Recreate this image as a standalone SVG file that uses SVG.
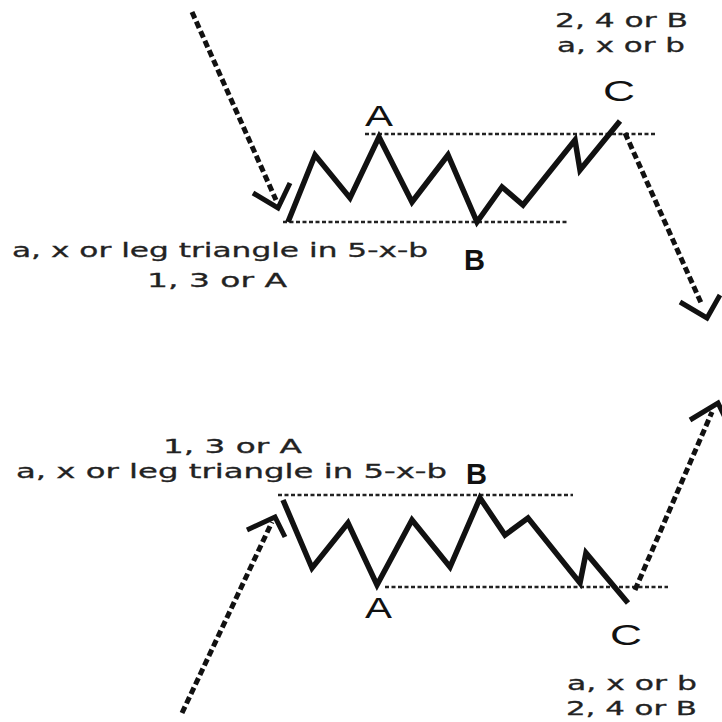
<svg xmlns="http://www.w3.org/2000/svg" width="722" height="722" viewBox="0 0 722 722">
<style>
.wave{fill:none;stroke:#111;stroke-width:5.5;stroke-linejoin:miter;stroke-linecap:butt}
.dot{fill:none;stroke:#222;stroke-width:2.5;stroke-dasharray:4 2.5}
.dash{fill:none;stroke:#111;stroke-width:5;stroke-dasharray:7 3.5}
.head{fill:none;stroke:#111;stroke-width:5;stroke-linejoin:miter}
.lbl{font-family:"DejaVu Sans",Verdana,sans-serif;font-size:19px;fill:#222;stroke:#222;stroke-width:0.3}
.big{font-family:"Liberation Sans",Arial,sans-serif;font-size:30px;fill:#111}
</style>
<rect width="722" height="722" fill="#fff"/>
<g id="top-pattern">
<line class="dot" x1="365" y1="134" x2="657" y2="134"/>
<line class="dot" x1="283" y1="222" x2="568" y2="222"/>
<polyline class="wave" points="288,222 315,155 350,198 379,137 412,202 448,155 477,222 502,187 523,205 575,140 580,170 620,121"/>
</g>
<g id="top-labels">
<text class="big" x="365" y="126" textLength="28" lengthAdjust="spacingAndGlyphs">A</text>
<text class="big" x="464" y="270" textLength="21" lengthAdjust="spacingAndGlyphs" font-weight="bold">B</text>
<text class="big" x="603" y="101" textLength="32" lengthAdjust="spacingAndGlyphs">C</text>
<text class="lbl" x="555" y="27" textLength="133" lengthAdjust="spacingAndGlyphs">2, 4 or B</text>
<text class="lbl" x="557" y="52" textLength="128" lengthAdjust="spacingAndGlyphs">a, x or b</text>
<text class="lbl" x="12" y="257" textLength="416" lengthAdjust="spacingAndGlyphs">a, x or leg triangle in 5-x-b</text>
<text class="lbl" x="147" y="287" textLength="140" lengthAdjust="spacingAndGlyphs">1, 3 or A</text>
</g>
<g id="bottom-pattern">
<line class="dot" x1="278" y1="495" x2="573" y2="495"/>
<line class="dot" x1="385" y1="587" x2="668" y2="587"/>
<polyline class="wave" points="283,500 312,568 348,523 377,585 412,520 450,567 480,498 505,535 528,518 580,583 586,553 628,603"/>
</g>
<g id="bottom-labels">
<text class="big" x="466" y="484" textLength="21" lengthAdjust="spacingAndGlyphs" font-weight="bold">B</text>
<text class="big" x="365" y="618" textLength="27" lengthAdjust="spacingAndGlyphs">A</text>
<text class="big" x="610" y="645" textLength="32" lengthAdjust="spacingAndGlyphs">C</text>
<text class="lbl" x="163" y="453" textLength="139" lengthAdjust="spacingAndGlyphs">1, 3 or A</text>
<text class="lbl" x="16" y="478" textLength="431" lengthAdjust="spacingAndGlyphs">a, x or leg triangle in 5-x-b</text>
<text class="lbl" x="567" y="690" textLength="130" lengthAdjust="spacingAndGlyphs">a, x or b</text>
<text class="lbl" x="566" y="715" textLength="131" lengthAdjust="spacingAndGlyphs">2, 4 or B</text>
</g>
<g id="connectors">
<line class="dash" x1="192" y1="12" x2="276" y2="200"/>
<polyline class="head" points="253,193 278,208 290,183"/>
<line class="dash" x1="625" y1="133" x2="702" y2="305"/>
<polyline class="head" points="680,302 707,318 720,295"/>
<line class="dash" x1="182" y1="713" x2="272" y2="522"/>
<polyline class="head" points="247,530 275,517 285,537"/>
<line class="dash" x1="635" y1="590" x2="712" y2="412"/>
<polyline class="head" points="690,420 718,403 730,428"/>
</g>
</svg>
